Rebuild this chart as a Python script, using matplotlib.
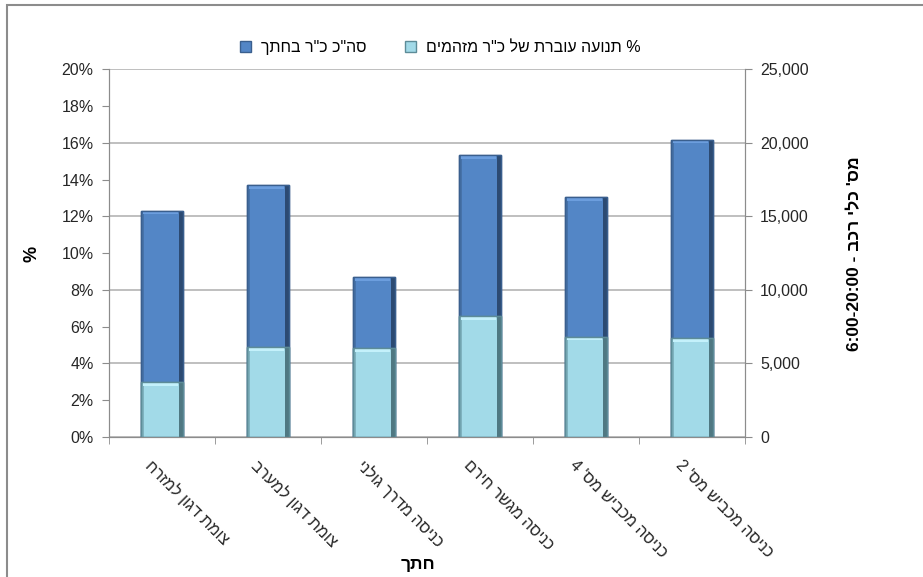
import numpy as np
import matplotlib
matplotlib.use("Agg")
from matplotlib import pyplot as plt
from matplotlib.ticker import FuncFormatter, MultipleLocator, FixedLocator
from matplotlib.patches import Rectangle

plt.rcParams['font.family'] = ['Liberation Sans', 'DejaVu Sans']

# data (logical Hebrew order)
sections = ["צומת דגון למזרח", "צומת דגון למערב", "כניסה מדרך גולני",
            "כניסה מגשר חירם", "כניסה מכביש מס' 4", "כניסה מכביש מס' 2"]
total_vehicles = [15390, 17100, 10840, 19140, 16300, 20210]
polluting_pct = [2.97, 4.86, 4.84, 6.58, 5.44, 5.38]

legend_total = 'סה"כ כ"ר בחתך'
legend_pct = '% תנועה עוברת של כ"ר מזהמים'
xlabel = "חתך"
right_label_heb = "מס' כלי רכב"
right_label_time = "6:00-20:00"


def heb(s):
    # matplotlib has no bidi, so feed the glyphs in visual order
    return s[::-1]


DARK = '#5386c6'
LIGHT = '#a2dae8'
GRID = '#b4b4b4'
SPINE = '#8c8c8c'


def bevel_bars(a, xs, vals, w, face, top, side, edge, z, label):
    bars = a.bar(xs, vals, width=w, color=face, edgecolor=edge, linewidth=1.0,
                 label=label, zorder=z)
    # fake the excel bevel: thin dark strip on the right, light cap on top
    a.bar(xs + w * 0.455, vals, width=w * 0.09, color=side, linewidth=0, zorder=z + 0.1)
    a.bar(xs - w * 0.47, vals, width=w * 0.06, color=edge, alpha=0.5, linewidth=0, zorder=z + 0.1)
    cap = (a.get_ylim()[1] - a.get_ylim()[0]) * 0.01
    a.bar(xs - w * 0.04, [cap] * len(vals), bottom=np.array(vals) - cap, width=w * 0.84,
          color=top, linewidth=0, zorder=z + 0.1)
    a.bar(xs, vals, width=w, fill=False, edgecolor=edge, linewidth=1.0, zorder=z + 0.2)
    return bars


fig = plt.figure(figsize=(9.23, 5.77), dpi=100)
ax = fig.add_axes([0.118, 0.243, 0.689, 0.637])
ax2 = ax.twinx()

ax.set_ylim(0, 20)
ax2.set_ylim(0, 25000)

x = np.arange(len(sections))
w = 0.39

b2 = bevel_bars(ax2, x, total_vehicles, w, DARK, '#6c9ede', '#2c4a72', '#3a5f8e', 2,
                heb(legend_total))
b1 = bevel_bars(ax, x, polluting_pct, w, LIGHT, '#c4f1fb', '#4f7882', '#5d8c98', 3,
                heb(legend_pct))

# left axis drawn above the twin so light bars cover dark ones
ax.set_zorder(ax2.get_zorder() + 1)
ax.patch.set_visible(False)

ax.set_xlim(-0.5, len(sections) - 0.5)

ax.yaxis.set_major_locator(MultipleLocator(2))
ax.yaxis.set_major_formatter(FuncFormatter(lambda v, p: "%d%%" % round(v)))
ax2.yaxis.set_major_locator(MultipleLocator(5000))
ax2.yaxis.set_major_formatter(FuncFormatter(lambda v, p: "{:,.0f}".format(v)))

ax2.grid(True, axis='y', color=GRID, linewidth=1.2, zorder=0)
ax2.set_axisbelow(True)

for a in (ax, ax2):
    a.spines['top'].set_visible(False)
    for s in ('left', 'right', 'bottom'):
        a.spines[s].set_color(SPINE)
    a.tick_params(axis='y', colors=SPINE, labelcolor='#262626', labelsize=11.5, length=5, pad=6)

ax.set_xticks(x)
ax.set_xticklabels([])
ax.xaxis.set_minor_locator(FixedLocator(np.arange(-0.5, len(sections), 1.0)))
ax.tick_params(axis='x', which='major', length=0)
ax.tick_params(axis='x', which='minor', length=5, color=SPINE)

for xi, name in zip(x, sections):
    ax.annotate(heb(name), xy=(xi, 0), xycoords=('data', 'axes fraction'),
                xytext=(-6, -15), textcoords='offset points',
                rotation=-45, rotation_mode='anchor', ha='left', va='top',
                fontsize=11.5, color='#262626')

fig.text(0.453, 0.008, heb(xlabel), ha='center', va='bottom', fontsize=12.5, fontweight='bold')
fig.text(0.035, 0.56, "%", rotation=90, ha='center', va='center', fontsize=13, fontweight='bold')
fig.text(0.926, 0.56, right_label_time + " - " + heb(right_label_heb), rotation=90,
         ha='center', va='center', fontsize=12.5, fontweight='bold')

fig.legend(handles=[b2, b1], loc='center', bbox_to_anchor=(0.477, 0.918), ncol=2,
           frameon=False, fontsize=11.5, handlelength=0.7, handleheight=0.7,
           columnspacing=2.4, handletextpad=0.6)

# outer chart border (only top/left visible in the crop)
fig.patches.append(Rectangle((0.008, -0.1), 1.1, 1.092, transform=fig.transFigure,
                             fill=False, edgecolor='#8c8c8c', linewidth=1.5))

fig.savefig("out.png", dpi=100)
